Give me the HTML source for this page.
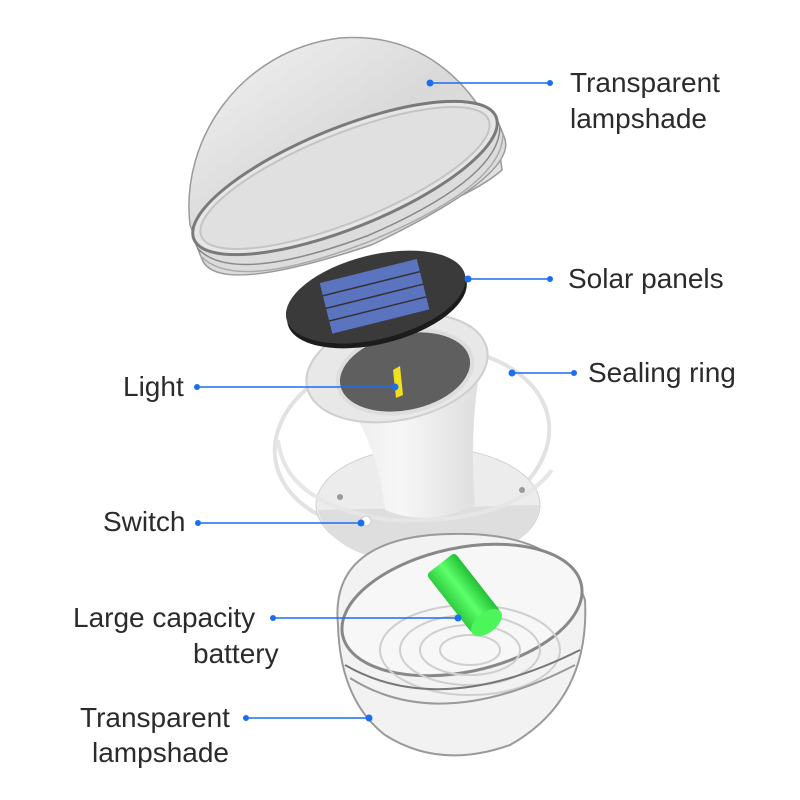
<!DOCTYPE html>
<html><head><meta charset="utf-8"><style>
html,body{margin:0;padding:0;background:#fff;}
svg{display:block;}
text{font-family:"Liberation Sans",sans-serif;font-size:28px;fill:#2b2b2b;}
</style></head><body>
<svg width="800" height="800" viewBox="0 0 800 800" xmlns="http://www.w3.org/2000/svg">
<defs>
<linearGradient id="dome" x1="0" y1="0" x2="1" y2="1">
<stop offset="0" stop-color="#f4f4f4"/><stop offset="0.5" stop-color="#d9d9d9"/><stop offset="1" stop-color="#e8e8e8"/>
</linearGradient>
<linearGradient id="body" x1="0" y1="0" x2="1" y2="0">
<stop offset="0" stop-color="#e6e6e6"/><stop offset="0.5" stop-color="#f7f7f7"/><stop offset="1" stop-color="#dcdcdc"/>
</linearGradient>
<linearGradient id="green" x1="0" y1="0" x2="1" y2="0">
<stop offset="0" stop-color="#2ecc40"/><stop offset="0.5" stop-color="#5dff6a"/><stop offset="1" stop-color="#22c035"/>
</linearGradient>
</defs>

<!-- Top dome -->
<g>
<path d="M190,225 C180,140 240,50 340,38 C420,32 470,80 498,140 L502,170 C450,215 300,255 200,252 Z" fill="url(#dome)" stroke="#9a9a9a" stroke-width="1.5"/>
<g transform="rotate(-22 345 178)">
<path d="M182,178 Q182,215 345,228 Q508,215 508,178 L508,200 Q508,240 345,250 Q182,240 182,200 Z" fill="#dcdcdc" stroke="#999" stroke-width="1.5"/>
<path d="M182,188 Q200,236 345,240 Q490,236 508,188" fill="none" stroke="#888" stroke-width="1.5"/>
<path d="M182,196 Q200,244 345,246 Q490,244 508,196" fill="none" stroke="#aaa" stroke-width="1.5"/>
<ellipse cx="345" cy="178" rx="163" ry="50" fill="#e6e6e6" stroke="#7a7a7a" stroke-width="3"/>
<ellipse cx="345" cy="178" rx="155" ry="44" fill="#e0e0e0" stroke="#c4c4c4" stroke-width="2"/>
</g>
</g>

<!-- Sealing ring back part -->
<ellipse cx="412" cy="440" rx="138" ry="92" transform="rotate(-8 412 440)" fill="none" stroke="#e2e2e2" stroke-width="4"/>

<!-- Base plate -->
<ellipse cx="428" cy="505" rx="112" ry="58" fill="#ececec" stroke="#d0d0d0" stroke-width="1"/>
<path d="M318,510 Q330,560 428,566 Q530,560 540,505" fill="#dedede"/>
<circle cx="340" cy="497" r="3" fill="#999"/>
<circle cx="522" cy="490" r="3" fill="#999"/>
<circle cx="405" cy="553" r="3" fill="#999"/>

<!-- Funnel body -->
<path d="M315,365 Q375,420 385,510 Q430,528 475,505 Q468,420 485,340 Z" fill="url(#body)"/>
<ellipse cx="397" cy="368" rx="92" ry="52" transform="rotate(-12 397 368)" fill="#e8e8e8" stroke="#cfcfcf" stroke-width="2"/>
<ellipse cx="405" cy="372" rx="68" ry="40" transform="rotate(-12 405 372)" fill="#5f5f5f" stroke="#ddd" stroke-width="4"/>
<polygon points="393,370 400,366 403,395 396,398" fill="#f0e020"/>

<!-- Sealing ring front -->
<path d="M278,440 Q285,505 390,520 Q510,525 552,470" fill="none" stroke="#e6e6e6" stroke-width="4"/>
<circle cx="366" cy="521" r="5" fill="#fff" stroke="#ccc"/>

<!-- Solar panel -->
<g transform="rotate(-14 376 298)">
<ellipse cx="376" cy="302" rx="92" ry="42" fill="#1c1c1c"/>
<ellipse cx="376" cy="297" rx="92" ry="42" fill="#3a3a3a"/>
<rect x="325" y="270" width="100" height="52" fill="#5b74c0"/>
<line x1="325" y1="283" x2="425" y2="283" stroke="#333" stroke-width="1.5"/>
<line x1="325" y1="296" x2="425" y2="296" stroke="#333" stroke-width="1.5"/>
<line x1="325" y1="309" x2="425" y2="309" stroke="#333" stroke-width="1.5"/>
</g>

<!-- Bottom bowl -->
<path d="M338,625 Q330,545 430,535 Q560,525 585,600 Q590,700 510,745 Q440,770 385,735 Q340,700 338,625 Z" fill="#f2f2f2" stroke="#9a9a9a" stroke-width="2"/>
<ellipse cx="462" cy="610" rx="122" ry="62" transform="rotate(-12 462 610)" fill="#f7f7f7" stroke="#888" stroke-width="3"/>
<g fill="none" stroke="#cfcfcf" stroke-width="2">
<ellipse cx="470" cy="650" rx="90" ry="45"/>
<ellipse cx="470" cy="650" rx="70" ry="35"/>
<ellipse cx="470" cy="650" rx="50" ry="25"/>
<ellipse cx="470" cy="650" rx="30" ry="15"/>
</g>
<path d="M345,665 Q440,720 580,650" fill="none" stroke="#777" stroke-width="2"/>
<path d="M350,678 Q440,735 575,665" fill="none" stroke="#999" stroke-width="2"/>

<!-- Battery -->
<g transform="rotate(-38 465 595)">
<rect x="447" y="555" width="36" height="75" rx="4" fill="url(#green)"/>
<ellipse cx="465" cy="630" rx="18" ry="10" fill="#4cf55a"/>
</g>

<!-- Labels & connectors -->
<g stroke="#1a6ff0" stroke-width="1.5" fill="none">
<line x1="430" y1="83" x2="550" y2="83"/>
<line x1="468" y1="279" x2="550" y2="279"/>
<line x1="512" y1="373" x2="574" y2="373"/>
<line x1="197" y1="387" x2="395" y2="387"/>
<line x1="198" y1="523" x2="361" y2="523"/>
<line x1="273" y1="618" x2="458" y2="618"/>
<line x1="246" y1="718" x2="369" y2="718"/>
</g>
<g fill="#1a6ff0">
<circle cx="430" cy="83" r="3.5"/><circle cx="550" cy="83" r="3"/>
<circle cx="468" cy="279" r="3.5"/><circle cx="550" cy="279" r="3"/>
<circle cx="512" cy="373" r="3.5"/><circle cx="574" cy="373" r="3"/>
<circle cx="197" cy="387" r="3"/><circle cx="395" cy="387" r="3.5"/>
<circle cx="198" cy="523" r="3"/><circle cx="361" cy="523" r="3.5"/>
<circle cx="273" cy="618" r="3"/><circle cx="458" cy="618" r="3.5"/>
<circle cx="246" cy="718" r="3"/><circle cx="369" cy="718" r="3.5"/>
</g>

<text x="570" y="92">Transparent</text>
<text x="570" y="128">lampshade</text>
<text x="568" y="288">Solar panels</text>
<text x="588" y="382">Sealing ring</text>
<text x="123" y="396">Light</text>
<text x="103" y="531">Switch</text>
<text x="73" y="627">Large capacity</text>
<text x="193" y="663">battery</text>
<text x="80" y="727">Transparent</text>
<text x="92" y="762">lampshade</text>
</svg>
</body></html>
